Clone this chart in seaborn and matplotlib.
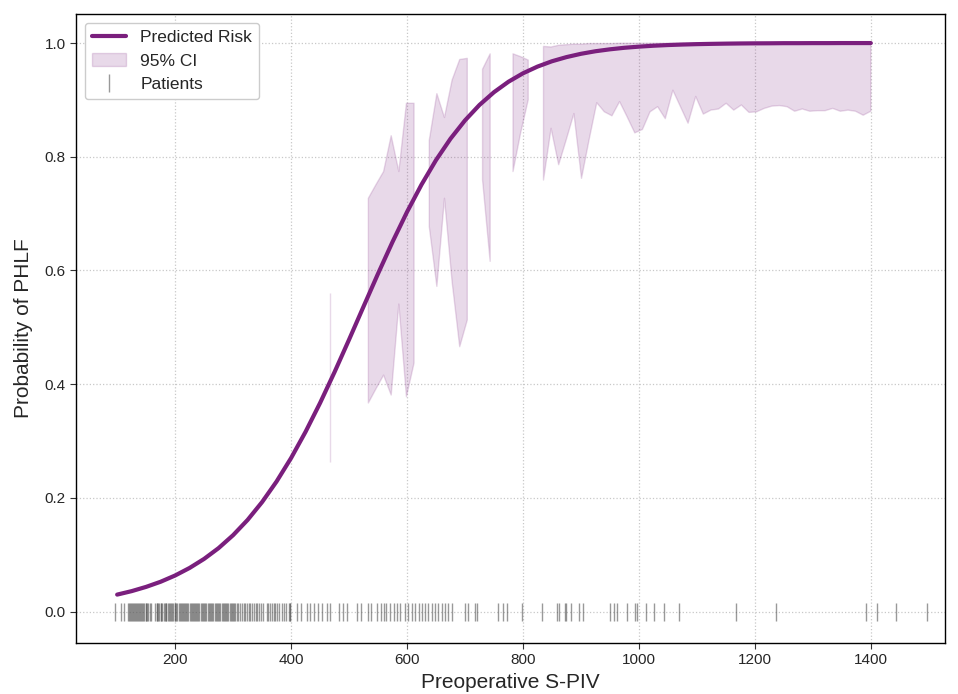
import numpy as np
import matplotlib
matplotlib.use("Agg")
import matplotlib.pyplot as plt
import seaborn as sns
from matplotlib.lines import Line2D
from matplotlib.patches import Patch

# ---------------- data ----------------
curve_x = [100, 125, 150, 175, 200, 225, 250, 275, 300, 325, 350, 375, 400, 425,
           450, 475, 500, 525, 550, 575, 600, 625, 650, 675, 700, 725, 750, 775,
           800, 825, 850, 875, 900, 925, 950, 975, 1000, 1025, 1050, 1075, 1100,
           1125, 1150, 1175, 1200, 1225, 1250, 1275, 1300, 1325, 1350, 1375, 1400]
curve_y = [0.0301, 0.0362, 0.0437, 0.0527, 0.0637, 0.0770, 0.0929, 0.1119, 0.1346,
           0.1614, 0.1928, 0.2290, 0.2702, 0.3164, 0.3670, 0.4214, 0.4784, 0.5366,
           0.5944, 0.6503, 0.7029, 0.7510, 0.7941, 0.8317, 0.8639, 0.8911, 0.9135,
           0.9319, 0.9467, 0.9585, 0.9679, 0.9752, 0.9810, 0.9855, 0.9889, 0.9916,
           0.9936, 0.9952, 0.9964, 0.9973, 0.9980, 0.9985, 0.9989, 0.9992, 0.9994,
           0.9995, 0.9997, 0.9997, 0.9998, 0.9998, 0.9999, 0.9999, 0.9999]

nan = np.nan
ci_x = [454.5, 467.7, 480.8, 493.9, 507.1, 520.2, 533.3, 546.5, 559.6, 572.7, 585.9,
        599.0, 612.1, 625.3, 638.4, 651.5, 664.6, 677.8, 690.9, 704.0, 717.2, 730.3,
        743.4, 756.6, 769.7, 782.8, 796.0, 809.1, 822.2, 835.4, 848.5, 861.6, 874.7,
        887.9, 901.0, 914.1, 927.3, 940.4, 953.5, 966.7, 979.8, 992.9, 1006.1, 1019.2,
        1032.3, 1045.5, 1058.6, 1071.7, 1084.8, 1098.0, 1111.1, 1124.2, 1137.4, 1150.5,
        1163.6, 1176.8, 1189.9, 1203.0, 1216.2, 1229.3, 1242.4, 1255.6, 1268.7, 1281.8,
        1294.9, 1308.1, 1321.2, 1334.3, 1347.5, 1360.6, 1373.7, 1386.9, 1400.0]
ci_lower = [nan, 0.264, nan, nan, nan, nan,
            0.367, 0.392, 0.416, 0.381, 0.541, 0.378, 0.437, nan,
            0.677, 0.572, 0.727, 0.580, 0.466, 0.513, nan,
            0.759, 0.616, nan, nan,
            0.774, 0.842, 0.900, nan,
            0.759, 0.850, 0.786, 0.830, 0.876, 0.762, 0.830, 0.895, 0.879, 0.872,
            0.897, 0.870, 0.842, 0.848, 0.879, 0.888, 0.867, 0.917, 0.888, 0.859,
            0.906, 0.875, 0.882, 0.884, 0.894, 0.882, 0.891, 0.878, 0.879, 0.885,
            0.889, 0.890, 0.888, 0.880, 0.884, 0.880, 0.881, 0.881, 0.885, 0.880,
            0.882, 0.880, 0.873, 0.880]
ci_upper = [nan, 0.561, nan, nan, nan, nan,
            0.727, 0.751, 0.774, 0.837, 0.774, 0.894, 0.894, nan,
            0.829, 0.911, 0.869, 0.935, 0.971, 0.973, nan,
            0.954, 0.981, nan, nan,
            0.981, 0.976, 0.970, nan,
            0.994, 0.993, 0.996, 0.997, 0.998, 0.998, 0.999, 0.999, 0.999, 0.999,
            0.9995, 0.9995, 0.9995, 0.9995, 0.9995, 0.9995, 0.9995, 0.9995, 0.9995, 0.9995,
            1.0, 1.0, 1.0, 1.0, 1.0, 1.0, 1.0, 1.0, 1.0, 1.0,
            1.0, 1.0, 1.0, 1.0, 1.0, 1.0, 1.0, 1.0, 1.0, 1.0,
            1.0, 1.0, 1.0, 1.0]

patients_x = [97, 106, 111,
              119, 121, 122, 124, 126, 127, 129, 131, 133, 134, 136, 138, 140, 141, 143,
              145, 147, 149, 150, 152, 154, 156, 158,
              166, 168, 169, 171, 173, 175, 176, 178, 180, 182, 184, 185, 187, 189, 191,
              193, 195, 197, 199, 200, 202, 204, 206, 208, 210, 212, 214, 215, 217, 219,
              221, 223, 225, 227, 229, 231, 232, 234, 236, 238, 240, 242, 244, 246, 248,
              250, 252, 254, 256, 258, 260, 262, 264, 266, 268, 270, 272, 274, 276, 278,
              280, 282, 284, 286, 288, 290, 292, 294, 296, 298, 300, 302, 304, 306,
              309, 312, 315, 318, 321, 324, 327, 330, 333, 336, 339, 342, 345, 348, 351,
              358, 361, 364, 367, 370, 373, 376, 380, 384, 388, 392, 396, 398, 399,
              410, 417, 427, 433, 440, 446, 453, 462, 468, 482, 490, 496, 513, 520, 533,
              538, 549, 555, 560, 564, 571, 577, 583, 588, 597, 602, 608, 614, 620, 626,
              631, 637, 643, 648, 654, 660, 666, 671, 677, 700, 706, 717, 720, 757, 765,
              773, 799, 832, 858, 863, 872, 875, 883, 897, 904, 950, 957, 962, 980, 993,
              996, 1012, 1026, 1044, 1069, 1167, 1236, 1391, 1410, 1444, 1497]
patients_y = [0.0] * len(patients_x)

x_ticks = [200, 400, 600, 800, 1000, 1200, 1400]
y_ticks = [0.0, 0.2, 0.4, 0.6, 0.8, 1.0]

line_color = "#7a1f7d"

# ---------------- plot ----------------
sns.set_style("ticks")
plt.rcParams["font.family"] = ["Liberation Sans", "DejaVu Sans"]

fig = plt.figure(figsize=(9.58, 6.94), dpi=100)
ax = fig.add_axes([76 / 958, 1 - 643 / 694, (945 - 76) / 958, (643 - 14) / 694])

ax.fill_between(ci_x, ci_lower, ci_upper, color=line_color, alpha=0.17,
                linewidth=1.0, zorder=2)
sns.lineplot(x=curve_x, y=curve_y, color=line_color, linewidth=3, ax=ax,
             zorder=3, legend=False)
ax.plot(patients_x, patients_y, linestyle="none", marker="|", markersize=13,
        markeredgewidth=1.0, color="#555555", alpha=0.6, zorder=2)

ax.set_xlim(29, 1528)
ax.set_ylim(-0.055, 1.051)
ax.set_xticks(x_ticks)
ax.set_yticks(y_ticks)
ax.set_xticklabels([str(t) for t in x_ticks])
ax.set_yticklabels([f"{t:.1f}" for t in y_ticks])
ax.tick_params(labelsize=11, length=4, width=0.8, color="#333333")
ax.grid(True, linestyle=":", color="#c8c8c8", linewidth=0.9)
for sp in ax.spines.values():
    sp.set_visible(True)
    sp.set_color("black")
    sp.set_linewidth(1.0)

ax.set_xlabel("Preoperative S-PIV", fontsize=15, labelpad=4)
ax.set_ylabel("Probability of PHLF", fontsize=15, labelpad=8)

handles = [
    Line2D([0], [0], color=line_color, linewidth=3),
    Patch(facecolor=line_color, alpha=0.17, edgecolor=line_color),
    Line2D([0], [0], linestyle="none", marker="|", markersize=13,
           markeredgewidth=1.0, color="#555555", alpha=0.6),
]
ax.legend(handles, ["Predicted Risk", "95% CI", "Patients"], loc="upper left",
          fontsize=12.5, frameon=True, edgecolor="#cccccc", fancybox=True,
          framealpha=1.0)

fig.savefig("out.png", dpi=100)
